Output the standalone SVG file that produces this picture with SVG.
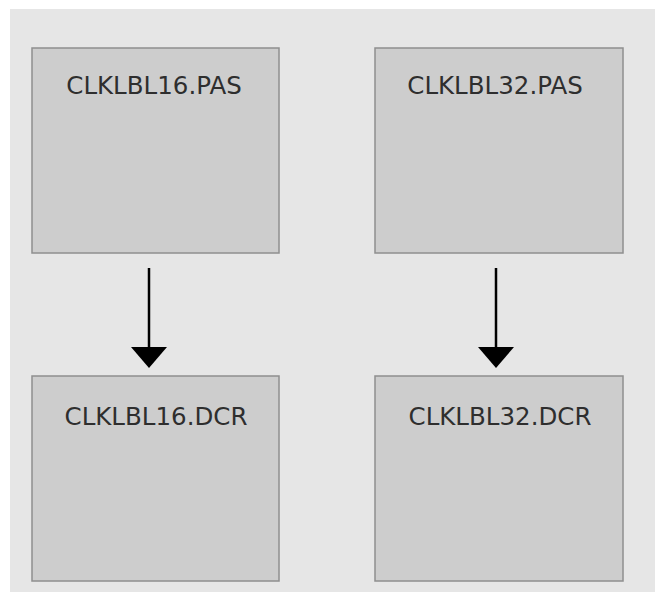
<svg xmlns="http://www.w3.org/2000/svg" width="655" height="592" viewBox="0 0 655 592">
<style>
.box{fill:#cdcdcd;stroke:#8f8f8f;stroke-width:1.5}
.lbl{font-family:"DejaVu Sans",Verdana,sans-serif;font-size:24.5px;fill:#2e2e2e;text-anchor:middle}
.conn{stroke:#000;stroke-width:2.5;fill:none}
.head{fill:#000}
</style>
<rect x="0" y="0" width="655" height="592" fill="#ffffff"/>
<rect x="10" y="9" width="645" height="583" fill="#e6e6e6"/>
<g id="n1"><rect class="box" x="32" y="48" width="247" height="205"/><text class="lbl" x="154" y="94">CLKLBL16.PAS</text></g>
<g id="n2"><rect class="box" x="375" y="48" width="248" height="205"/><text class="lbl" x="495" y="94">CLKLBL32.PAS</text></g>
<g id="n3"><rect class="box" x="32" y="376" width="247" height="205"/><text class="lbl" x="156" y="425">CLKLBL16.DCR</text></g>
<g id="n4"><rect class="box" x="375" y="376" width="248" height="205"/><text class="lbl" x="500" y="425">CLKLBL32.DCR</text></g>
<g id="connectors">
<line class="conn" x1="149" y1="268" x2="149" y2="350"/>
<polygon class="head" points="131,347 167,347 149,368"/>
<line class="conn" x1="496" y1="268" x2="496" y2="350"/>
<polygon class="head" points="478,347 514,347 496,368"/>
</g>
</svg>
